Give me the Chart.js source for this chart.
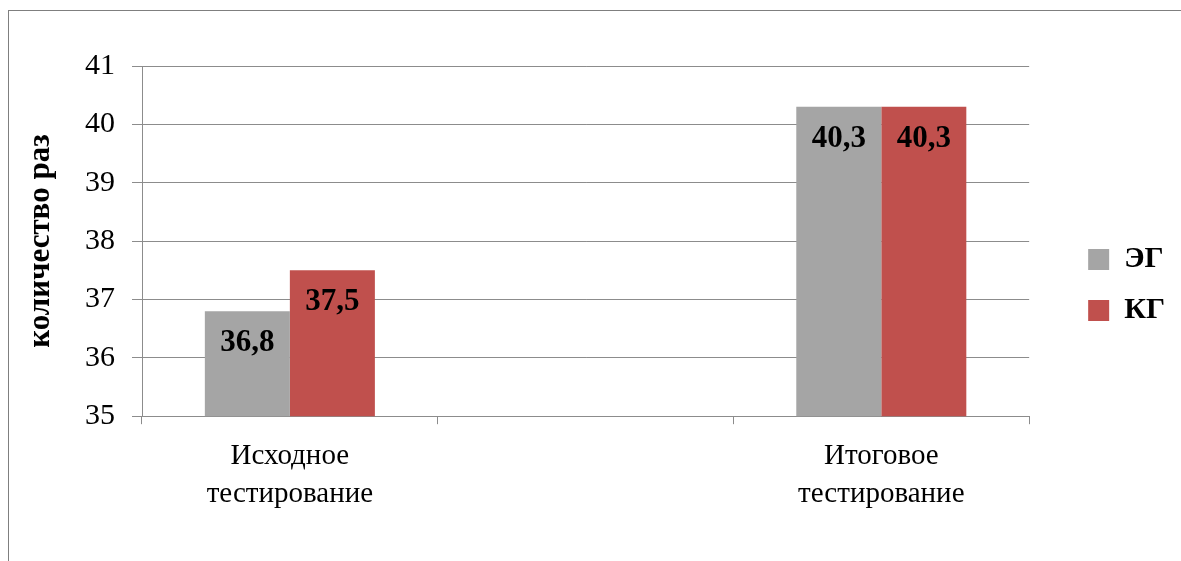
<!DOCTYPE html>
<html lang="ru">
<head>
<meta charset="utf-8">
<title>Исходное и итоговое тестирование</title>
<script src="https://cdn.jsdelivr.net/npm/chart.js@4.4.1/dist/chart.umd.min.js"></script>
<style>
    html, body { margin: 0; padding: 0; background: #fff; }
    #wrap { position: relative; width: 1181px; height: 561px; overflow: hidden; }
    /* chart frame: only top and left edges are visible in the picture */
    #frame {
        position: absolute; left: 8px; top: 10px; right: -4px; bottom: -4px;
        border-top: 1px solid #7f7f7f; border-left: 1px solid #7f7f7f;
    }
    #chart { position: absolute; left: 0; top: 0; }
</style>
</head>
<body>
<div id="wrap">
    <div id="frame"></div>
    <canvas id="chart" width="1181" height="561"></canvas>
</div>
<script>
// Data
const categories = [['Исходное', 'тестирование'], '', ['Итоговое', 'тестирование']];
const seriesNames = ['ЭГ', 'КГ'];
const egValues = [36.8, null, 40.3];
const kgValues = [37.5, null, 40.3];
const yMin = 35;
const yMax = 41;
const yStep = 1;

const serif = "'Liberation Serif', 'Times New Roman', serif";
const gridColor = '#8c8c8c';

// Draws the value labels inside the top of each bar
const valueLabels = {
    id: 'valueLabels',
    afterDatasetsDraw(chart) {
        const ctx = chart.ctx;
        ctx.save();
        ctx.font = 'bold 31px ' + serif;
        ctx.fillStyle = '#000';
        ctx.textAlign = 'center';
        ctx.textBaseline = 'middle';
        chart.data.datasets.forEach(function(ds, i) {
            const meta = chart.getDatasetMeta(i);
            meta.data.forEach(function(bar, j) {
                const v = ds.data[j];
                if (v === null || v === undefined) return;
                ctx.fillText(v.toFixed(1).replace('.', ','), bar.x, bar.y + 32);
            });
        });
        ctx.restore();
    }
};

document.addEventListener('DOMContentLoaded', function() {
    const ctx = document.getElementById('chart').getContext('2d');

    new Chart(ctx, {
        type: 'bar',
        data: {
            labels: categories,
            datasets: [
                {
                    label: seriesNames[0],
                    data: egValues,
                    backgroundColor: '#a5a5a5',
                    borderWidth: 0
                },
                {
                    label: seriesNames[1],
                    data: kgValues,
                    backgroundColor: '#c0504d',
                    borderWidth: 0
                }
            ]
        },
        options: {
            responsive: false,
            animation: false,
            datasets: {
                bar: { categoryPercentage: 0.575, barPercentage: 1 }
            },
            layout: {
                // top padding is for the legend; the plot top is set by the y axis below
                padding: { top: 43, bottom: 34, left: 0, right: 6 }
            },
            plugins: {
                tooltip: { enabled: false },
                legend: {
                    position: 'right',
                    align: 'center',
                    labels: {
                        boxWidth: 21,
                        boxHeight: 21,
                        padding: 21,
                        color: '#000',
                        font: { family: serif, size: 30, weight: 'bold' }
                    }
                }
            },
            scales: {
                x: {
                    offset: true,
                    grid: {
                        offset: true,
                        drawOnChartArea: false,
                        drawTicks: true,
                        tickLength: 8,
                        color: gridColor
                    },
                    border: { color: gridColor },
                    ticks: {
                        color: '#000',
                        padding: 14,
                        maxRotation: 0,
                        autoSkip: false,
                        font: { family: serif, size: 29, lineHeight: 1.29 }
                    }
                },
                y: {
                    min: yMin,
                    max: yMax,
                    grid: { color: gridColor, tickLength: 10 },
                    border: { color: gridColor },
                    ticks: {
                        stepSize: yStep,
                        color: '#000',
                        padding: 17,
                        font: { family: serif, size: 30 }
                    },
                    title: {
                        display: true,
                        text: 'количество раз',
                        color: '#000',
                        padding: { top: 22, bottom: 0 },
                        font: { family: serif, size: 31, weight: 'bold' }
                    },
                    afterFit: function(scale) {
                        scale.width = 142;
                        scale.paddingTop = 66;
                    }
                },
                // empty spacer between the plot and the legend
                spacer: {
                    type: 'linear',
                    position: 'right',
                    grid: { display: false },
                    border: { display: false },
                    ticks: { display: false },
                    afterFit: function(scale) { scale.width = 38; }
                }
            }
        },
        plugins: [valueLabels]
    });
});
</script>
</body>
</html>
